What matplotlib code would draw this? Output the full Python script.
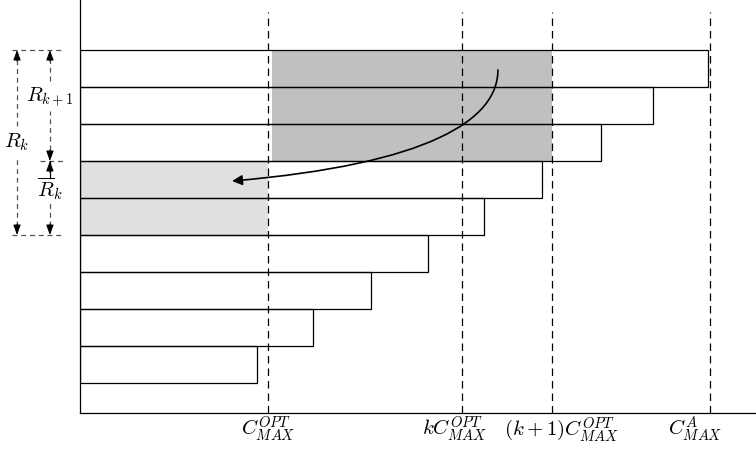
import numpy as np
import matplotlib
matplotlib.use("Agg")
import matplotlib.pyplot as plt
from matplotlib.path import Path
from matplotlib.patches import FancyArrowPatch

plt.rcParams['mathtext.fontset'] = 'cm'

# job lengths (bottom bar first), in units of C_MAX^OPT
bar_widths = [0.94, 1.24, 1.55, 1.85, 2.15, 2.46, 2.77, 3.05, 3.34]
bar_pos = np.arange(len(bar_widths))

# dashed marker lines and their labels
marks = [1.0, 2.03, 2.51, 3.35]
mark_labels = [r'$C_{MAX}^{OPT}$', r'$kC_{MAX}^{OPT}$',
               r'$(k+1)C_{MAX}^{OPT}$', r'$C_{MAX}^{A}$']
label_x = [1.0, 1.99, 2.56, 3.27]

# shaded regions: (bottom bar, number of bars, left, right)
dark_region = (6, 3, 1.02, 2.51)
light_region = (4, 2, 0.0, 1.0)

# curved arrow control points (data units)
arrow_pts = [(2.223, 8.46), (2.223, 7.11), (1.856, 5.92), (0.809, 5.46)]

# row levels for the R annotations on the left
lvl_top, lvl_mid, lvl_bot = 9, 6, 4

fig = plt.figure(figsize=(7.56, 4.51), dpi=100)
ax = fig.add_axes([80/756, 38/451, 676/756, 413/451])
ax.set_xlim(0, 676/188)
ax.set_ylim(-0.81, 413/37 - 0.81)

for s in ['top', 'right']:
    ax.spines[s].set_visible(False)
ax.spines['left'].set_linewidth(0.9)
ax.spines['bottom'].set_linewidth(0.9)
ax.set_xticks([])
ax.set_yticks([])

# shaded areas
b, n, l, r = dark_region
ax.barh(b, r - l, left=l, height=n, align='edge', color='#c0c0c0', lw=0, zorder=1)
b, n, l, r = light_region
ax.barh(b, r - l, left=l, height=n, align='edge', color='#e0e0e0', lw=0, zorder=1)

# job bars
ax.barh(bar_pos, bar_widths, height=1, align='edge', facecolor='none',
        edgecolor='black', lw=0.9, zorder=3)

# dashed verticals
for m in marks:
    ax.axvline(m, ymin=0, ymax=0.97, color='black', lw=0.9,
               linestyle=(0, (6, 4)), zorder=4)

for x, t in zip(label_x, mark_labels):
    ax.text(x, -1.25, t, ha='center', va='center', fontsize=15, clip_on=False)

# curved arrow
path = Path(arrow_pts, [Path.MOVETO, Path.CURVE4, Path.CURVE4, Path.CURVE4])
arr = FancyArrowPatch(path=path, arrowstyle='-|>,head_length=6,head_width=3',
                      color='black', lw=1.2, zorder=5)
ax.add_patch(arr)

# left annotations
gcol = '#555555'
dash = (0, (4, 3))
xo, xi = -0.335, -0.16
for y, x0 in [(lvl_top, -0.362), (lvl_mid, -0.213), (lvl_bot, -0.362)]:
    ax.plot([x0, -0.09], [y, y], color=gcol, lw=0.9, linestyle=dash, clip_on=False)

def vdash(x, y0, y1, **kw):
    ax.plot([x, x], [y0, y1], color=kw.get('c', gcol), lw=0.9,
            linestyle=kw.get('ls', dash), clip_on=False)

vdash(xo, lvl_bot + 0.25, 6.1)
vdash(xo, 6.95, lvl_top - 0.25)
vdash(xi, lvl_mid + 0.3, 7.35)
vdash(xi, 8.15, lvl_top - 0.25)
vdash(xi, lvl_bot + 0.25, 4.95)
vdash(xi, 5.55, lvl_mid, c='black', ls='-')

def head(x, y_from, y_to):
    ax.annotate('', xy=(x, y_to), xytext=(x, y_from), annotation_clip=False,
                arrowprops=dict(arrowstyle='-|>,head_length=0.6,head_width=0.22',
                                color='black', lw=0.8, shrinkA=0, shrinkB=0))

head(xo, lvl_top - 0.3, lvl_top)
head(xo, lvl_bot + 0.3, lvl_bot)
head(xi, lvl_top - 0.3, lvl_top)
head(xi, lvl_mid + 0.3, lvl_mid)
head(xi, lvl_mid - 0.3, lvl_mid)
head(xi, lvl_bot + 0.3, lvl_bot)

ax.text(xi, 7.73, r'$R_{k+1}$', ha='center', va='center', fontsize=15, clip_on=False)
ax.text(xo, 6.51, r'$R_k$', ha='center', va='center', fontsize=15, clip_on=False)
ax.text(xi, 5.25, r'$\overline{R}_k$', ha='center', va='center', fontsize=15, clip_on=False)

fig.savefig('out.png', dpi=100)
